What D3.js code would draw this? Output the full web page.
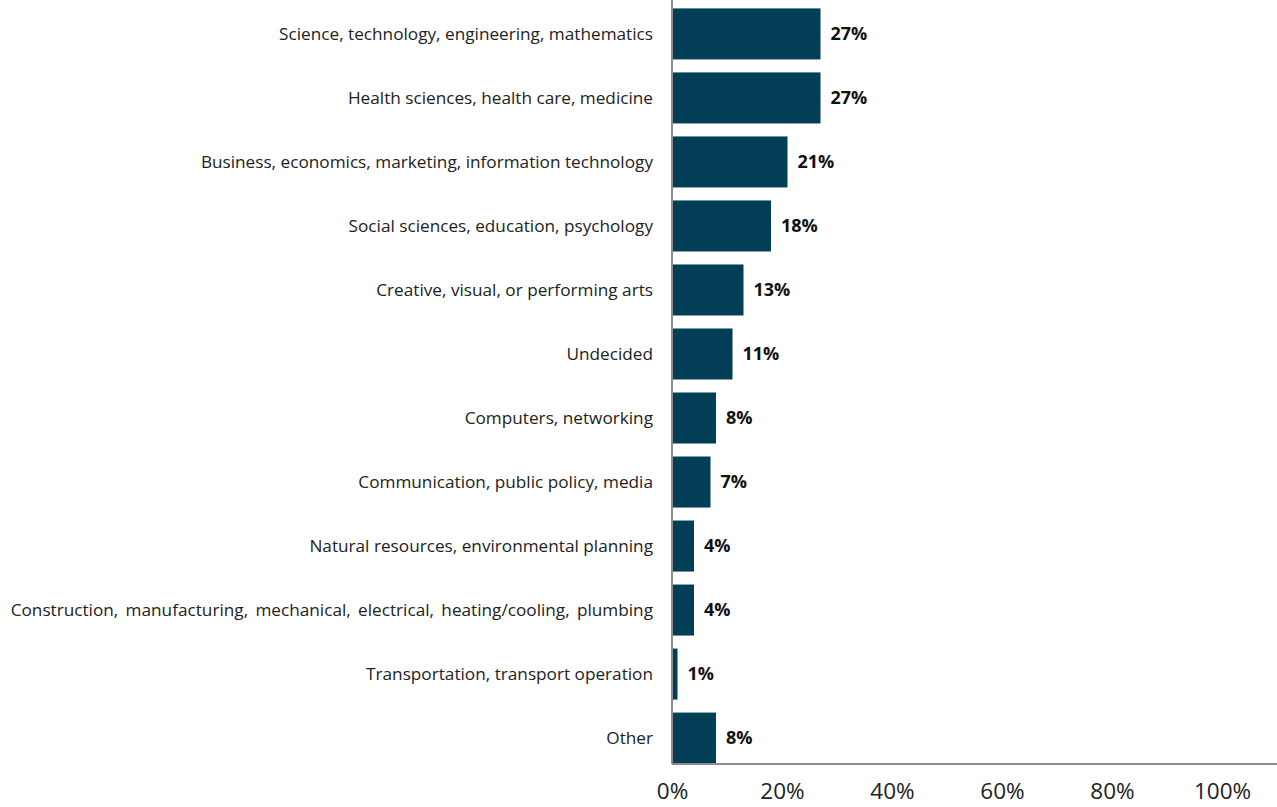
<!DOCTYPE html>
<html>
<head>
<meta charset="utf-8">
<script src="https://cdn.jsdelivr.net/npm/d3@7"></script>
<style>
  html, body { margin: 0; padding: 0; background: #fff; }
  svg { display: block; }
</style>
</head>
<body>
<svg id="chart" width="1277" height="807"></svg>
<script>
// Intended fields of study, share of respondents (%)
const categories = [
  "Science, technology, engineering, mathematics",
  "Health sciences, health care, medicine",
  "Business, economics, marketing, information technology",
  "Social sciences, education, psychology",
  "Creative, visual, or performing arts",
  "Undecided",
  "Computers, networking",
  "Communication, public policy, media",
  "Natural resources, environmental planning",
  "Construction,  manufacturing,  mechanical,  electrical,  heating/cooling,  plumbing",
  "Transportation, transport operation",
  "Other"
];
const values = [27, 27, 21, 18, 13, 11, 8, 7, 4, 4, 1, 8];
const xTicks = [0, 20, 40, 60, 80, 100];

const svg = d3.select("#chart");
const W = 1277, H = 807;
const x0 = 672, xAxisY = 764;

const x = d3.scaleLinear().domain([0, 100]).range([x0, x0 + 550]);
const y = d3.scaleBand().domain(categories).range([2, 770]).paddingInner(0.203).paddingOuter(0.1);

// bars
svg.append("g").selectAll("rect")
  .data(values)
  .join("rect")
  .attr("x", x(0))
  .attr("y", (d, i) => y(categories[i]))
  .attr("width", d => x(d) - x(0))
  .attr("height", y.bandwidth())
  .attr("fill", "#023e56");

// value labels
svg.append("g").selectAll("text")
  .data(values)
  .join("text")
  .attr("x", d => x(d) + 10)
  .attr("y", (d, i) => y(categories[i]) + y.bandwidth() / 2)
  .attr("dy", "0.35em")
  .attr("font-family", "'Open Sans', sans-serif")
  .attr("font-size", 18)
  .attr("font-weight", "bold")
  .attr("fill", "#111")
  .text(d => d + "%");

// category labels (double-spaced label gets slightly tighter word spacing)
svg.append("g").selectAll("text")
  .data(categories)
  .join("text")
  .attr("x", 653)
  .attr("y", d => y(d) + y.bandwidth() / 2)
  .attr("dy", "0.35em")
  .attr("text-anchor", "end")
  .attr("font-family", "'Open Sans', sans-serif")
  .attr("font-size", 17.2)
  .attr("fill", "#222")
  .style("white-space", "pre")
  .style("word-spacing", d => d.includes("  ") ? "-0.8px" : null)
  .text(d => d);

// axes lines
svg.append("line")
  .attr("x1", x0).attr("x2", x0).attr("y1", 0).attr("y2", xAxisY)
  .attr("stroke", "#8c8c8c").attr("stroke-width", 2);

const xAxis = d3.axisBottom(x).tickValues(xTicks).tickFormat(d => d + "%").tickSize(0).tickPadding(19);
const gx = svg.append("g").attr("transform", `translate(0,${xAxisY})`).call(xAxis);
gx.select(".domain").remove();
gx.append("line").attr("x1", x0).attr("x2", W).attr("stroke", "#8c8c8c").attr("stroke-width", 2);
gx.selectAll(".tick text")
  .attr("font-family", "'Open Sans', sans-serif")
  .attr("font-size", 22.5)
  .attr("fill", "#222");
</script>
</body>
</html>
